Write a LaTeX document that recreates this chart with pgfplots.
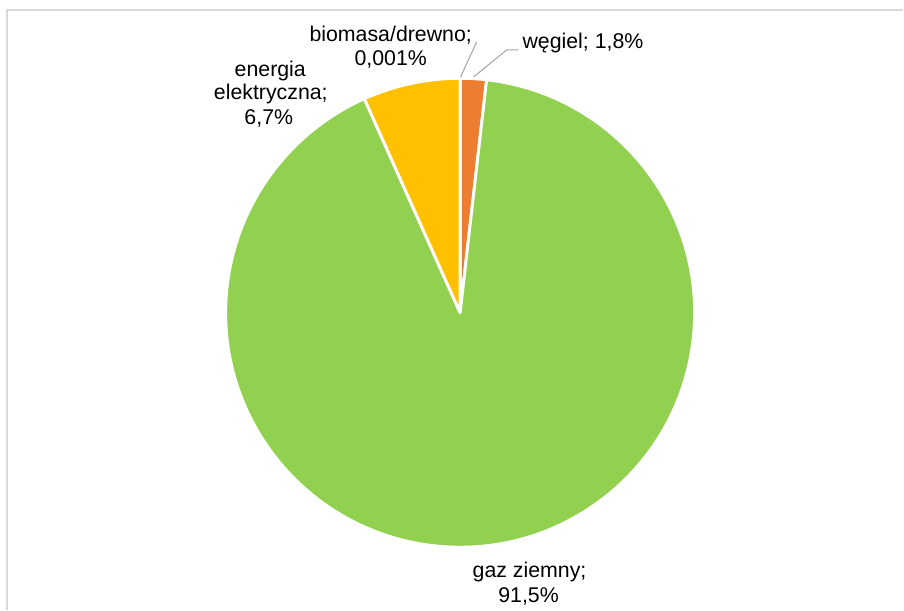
\documentclass[border=0pt]{standalone}
\usepackage{fontspec}
\setmainfont{Liberation Sans}
\usepackage{pgfplots}
\usepackage{pgfplotstable}
\pgfplotsset{compat=1.18}
\definecolor{cBio}{HTML}{4472C4}
\definecolor{cWeg}{HTML}{ED7D31}
\definecolor{cGaz}{HTML}{92D050}
\definecolor{cEne}{HTML}{FFC000}
\definecolor{cLead}{HTML}{A6A6A6}
\definecolor{cBord}{HTML}{D9D9D9}
\tikzset{lbl/.style={inner sep=0pt,font=\fontsize{16}{18.4}\selectfont}}
\pgfplotstableread{
name value
biomasa 0.001
wegiel 1.8
gaz 91.5
energia 6.7
}\piedata
\begin{document}
\begin{tikzpicture}
\def\getv#1#2{\pgfplotstablegetelem{#1}{value}\of\piedata\let#2\pgfplotsretval}
\getv{0}\va \getv{1}\vb \getv{2}\vc \getv{3}\vd
\pgfmathsetmacro\tot{\va+\vb+\vc+\vd}
\pgfmathsetmacro\aA{90}
\pgfmathsetmacro\aB{\aA-3.6*(\va/\tot)*100}
\pgfmathsetmacro\aC{\aB-3.6*(\vb/\tot)*100}
\pgfmathsetmacro\aD{\aC-3.6*(\vc/\tot)*100}
\pgfmathsetmacro\aE{\aD-3.6*(\vd/\tot)*100}
\def\R{176pt}
\begin{axis}[x=0.75pt,y=0.75pt,xmin=0,xmax=904,ymin=0,ymax=610,
  hide axis,clip=false]
\path (axis cs:0,0) rectangle (axis cs:904,610);
% border
\draw[cBord,line width=1.1pt] (axis cs:7,0) -- (axis cs:7,600) -- (axis cs:904,600);
% sectors
\filldraw[fill=cBio,draw=white,line width=2.2pt,line join=round] (axis cs:460.5,297) -- ++(\aA:\R) arc[start angle=\aA,end angle=\aB,radius=\R] -- cycle;
\filldraw[fill=cWeg,draw=white,line width=2.2pt,line join=round] (axis cs:460.5,297) -- ++(\aB:\R) arc[start angle=\aB,end angle=\aC,radius=\R] -- cycle;
\filldraw[fill=cGaz,draw=white,line width=2.2pt,line join=round] (axis cs:460.5,297) -- ++(\aC:\R) arc[start angle=\aC,end angle=\aD,radius=\R] -- cycle;
\filldraw[fill=cEne,draw=white,line width=2.2pt,line join=round] (axis cs:460.5,297) -- ++(\aD:\R) arc[start angle=\aD,end angle=\aE,radius=\R] -- cycle;
% leader lines
\draw[cLead,line width=0.8pt] (axis cs:477,568) -- (axis cs:461,533);
\draw[cLead,line width=0.8pt] (axis cs:519,560) -- (axis cs:507,560) -- (axis cs:474,533);
% labels
\node[lbl,anchor=base] at (axis cs:391,568.3) {biomasa/drewno;};
\node[lbl,anchor=base] at (axis cs:391,544) {0,001\%};
\node[lbl,anchor=base west] at (axis cs:522.7,561) {węgiel; 1,8\%};
\node[lbl,anchor=base] at (axis cs:270.5,533.3) {energia};
\node[lbl,anchor=base] at (axis cs:271,510) {elektryczna;};
\node[lbl,anchor=base] at (axis cs:269,485) {6,7\%};
\node[lbl,anchor=base] at (axis cs:530,32) {gaz ziemny;};
\node[lbl,anchor=base] at (axis cs:529,7.3) {91,5\%};
\end{axis}
\end{tikzpicture}
\end{document}
